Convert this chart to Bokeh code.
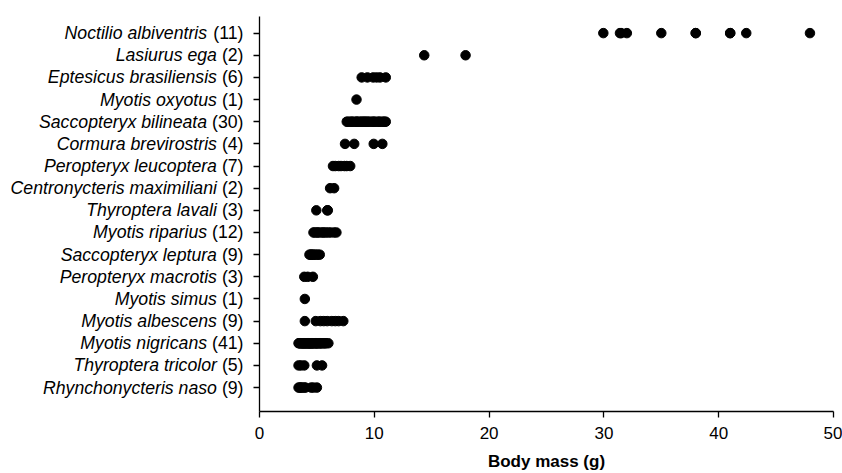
from bokeh.plotting import figure
from bokeh.models import FixedTicker, Range1d, CustomJSTickFormatter, ColumnDataSource
from bokeh.layouts import row
from bokeh.embed import file_html
from bokeh.resources import INLINE

# Species (top to bottom) and sample sizes
species = [
    "Noctilio albiventris", "Lasiurus ega", "Eptesicus brasiliensis", "Myotis oxyotus",
    "Saccopteryx bilineata", "Cormura brevirostris", "Peropteryx leucoptera",
    "Centronycteris maximiliani", "Thyroptera lavali", "Myotis riparius",
    "Saccopteryx leptura", "Peropteryx macrotis", "Myotis simus", "Myotis albescens",
    "Myotis nigricans", "Thyroptera tricolor", "Rhynchonycteris naso",
]
counts = [11, 2, 6, 1, 30, 4, 7, 2, 3, 12, 9, 3, 1, 9, 41, 5, 9]

# Body mass values (g)
noctilio_albiventris = [29.95, 31.4, 31.5, 32.0, 35.0, 38.0, 38.0, 41.0, 41.0, 42.4, 47.95]
lasiurus_ega = [14.35, 17.95]
eptesicus_brasiliensis = [8.9, 9.4, 9.9, 10.2, 10.5, 11.0]
myotis_oxyotus = [8.45]
saccopteryx_bilineata = [7.6, 7.7, 7.9, 8.0, 8.1, 8.2, 8.4, 8.5, 8.5, 8.7, 8.8, 8.9, 9.0, 9.1, 9.2,
                         9.3, 9.4, 9.5, 9.6, 9.8, 9.9, 10.0, 10.1, 10.3, 10.4, 10.5, 10.7, 10.8, 10.9, 11.0]
cormura_brevirostris = [7.45, 8.25, 9.95, 10.7]
peropteryx_leucoptera = [6.4, 6.6, 6.9, 7.1, 7.4, 7.6, 7.9]
centronycteris_maximiliani = [6.15, 6.5]
thyroptera_lavali = [4.95, 5.9, 5.95]
myotis_riparius = [4.7, 4.8, 5.0, 5.1, 5.3, 5.5, 5.6, 5.8, 6.0, 6.2, 6.5, 6.7]
saccopteryx_leptura = [4.35, 4.45, 4.5, 4.6, 4.7, 4.8, 4.95, 5.1, 5.25]
peropteryx_macrotis = [3.9, 4.2, 4.65]
myotis_simus = [3.95]
myotis_albescens = [3.95, 4.9, 5.3, 5.6, 5.9, 6.3, 6.6, 6.9, 7.3]
myotis_nigricans = [3.4, 3.5, 3.5, 3.6, 3.7, 3.7, 3.8, 3.8, 3.9, 3.9, 4.0, 4.0, 4.1, 4.1, 4.2, 4.2,
                    4.3, 4.3, 4.4, 4.4, 4.5, 4.5, 4.6, 4.6, 4.7, 4.7, 4.8, 4.9, 4.9, 5.0, 5.0, 5.1,
                    5.2, 5.3, 5.3, 5.4, 5.5, 5.6, 5.7, 5.8, 6.0]
thyroptera_tricolor = [3.4, 3.6, 3.9, 5.0, 5.45]
rhynchonycteris_naso = [3.4, 3.5, 3.6, 3.7, 3.9, 4.0, 4.5, 4.7, 5.0]

masses = [
    noctilio_albiventris, lasiurus_ega, eptesicus_brasiliensis, myotis_oxyotus,
    saccopteryx_bilineata, cormura_brevirostris, peropteryx_leucoptera,
    centronycteris_maximiliani, thyroptera_lavali, myotis_riparius,
    saccopteryx_leptura, peropteryx_macrotis, myotis_simus, myotis_albescens,
    myotis_nigricans, thyroptera_tricolor, rhynchonycteris_naso,
]
x_ticks = [0, 10, 20, 30, 40, 50]

FONT = "Liberation Sans"
FS = 17        # axis text size
LFS = 17.7     # species label size
n = len(species)

xs, ys = [], []
for i, vals in enumerate(masses):
    xs += vals
    ys += [n - i] * len(vals)

# approximate Arial advance widths (em) for the count strings
adv = {"(": 0.333, ")": 0.333, " ": 0.278}
def width(s):
    return sum(adv.get(c, 0.556) for c in s) * LFS

rows = [n - i for i in range(n)]
count_txt = ["(%d)" % c for c in counts]
LW = 248       # width of the label panel
gap = 5        # gap between label panel edge and count text
lab_src = ColumnDataSource(dict(
    x=[1.0] * n, y=rows, sp=species, ct=count_txt,
    off_sp=[-(gap + width(t) + width(" ")) for t in count_txt],
))

y_range = Range1d(-0.08, 17.75)
TOP, BOTTOM = 16, 61

# label panel (y tick labels: italic species + upright count)
lf = figure(width=LW, height=473, output_backend="svg", toolbar_location=None,
            x_range=Range1d(0, 1), y_range=y_range,
            x_axis_location=None, y_axis_location=None,
            min_border_left=0, min_border_right=0, min_border_top=TOP, min_border_bottom=BOTTOM)
lf.outline_line_color = None
lf.grid.visible = False
lf.text(x="x", y="y", text="ct", source=lab_src, x_offset=-gap,
        text_align="right", text_baseline="middle",
        text_font={"value": FONT}, text_font_size={"value": "%.1fpx" % LFS}, text_color="black")
lf.text(x="x", y="y", text="sp", source=lab_src, x_offset="off_sp",
        text_align="right", text_baseline="middle", text_font_style="italic",
        text_font={"value": FONT}, text_font_size={"value": "%.1fpx" % LFS}, text_color="black")

p = figure(width=842 - LW, height=473, output_backend="svg", toolbar_location=None,
           x_range=Range1d(0, 50), y_range=y_range,
           min_border_left=259 - LW, min_border_right=9, min_border_top=TOP, min_border_bottom=BOTTOM)
p.scatter(xs, ys, size=9.5, color="black", line_color="black")

p.xgrid.visible = False
p.ygrid.visible = False
p.outline_line_color = None

for ax in (p.xaxis, p.yaxis):
    ax.axis_line_color = "black"
    ax.axis_line_width = 1.3
    ax.major_tick_line_color = "black"
    ax.major_tick_line_width = 1.3
    ax.major_tick_out = 6
    ax.major_tick_in = 0
    ax.minor_tick_line_color = None

p.xaxis.ticker = FixedTicker(ticks=x_ticks)
p.xaxis.major_label_text_font = FONT
p.xaxis.major_label_text_font_size = "%dpx" % FS
p.xaxis.major_label_text_color = "black"
p.xaxis.major_label_standoff = 9
p.xaxis.axis_label = "Body mass (g)"
p.xaxis.axis_label_text_font = FONT
p.xaxis.axis_label_text_font_size = "%dpx" % FS
p.xaxis.axis_label_text_font_style = "bold"
p.xaxis.axis_label_text_color = "black"
p.xaxis.axis_label_standoff = 10

p.yaxis.ticker = FixedTicker(ticks=rows)
p.yaxis.formatter = CustomJSTickFormatter(code="return ''")
p.yaxis.major_label_standoff = 0

layout = row(lf, p, spacing=0)
open("out.html", "w").write(file_html(layout, INLINE))
